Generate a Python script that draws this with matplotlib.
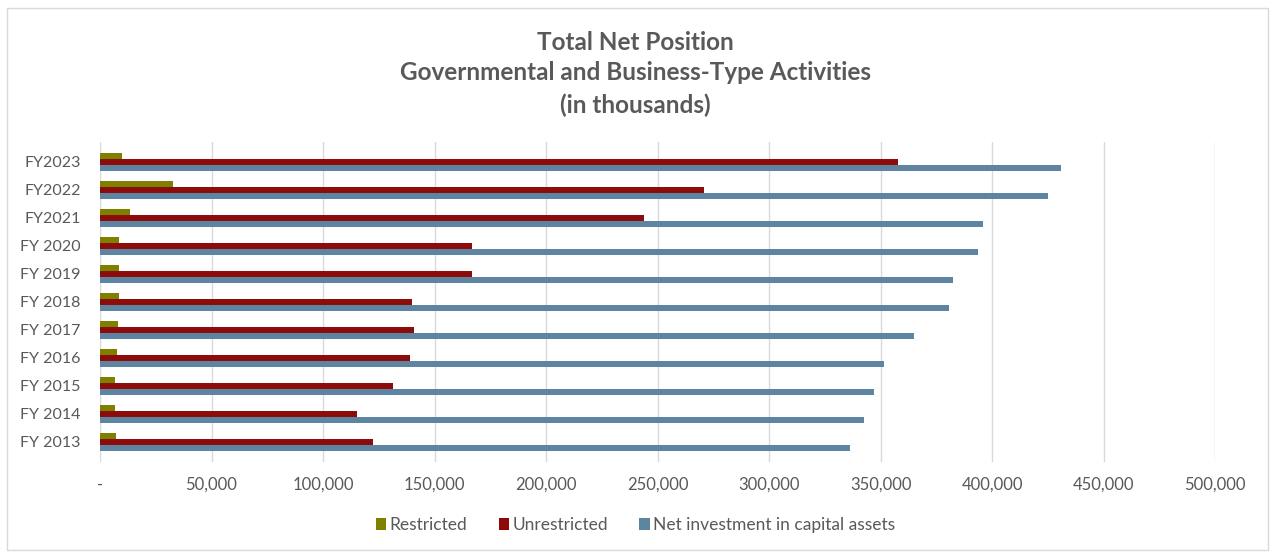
import numpy as np
import matplotlib.pyplot as plt
from matplotlib.ticker import FuncFormatter
from matplotlib.patches import Rectangle

years = ["FY 2013", "FY 2014", "FY 2015", "FY 2016", "FY 2017", "FY 2018",
         "FY 2019", "FY 2020", "FY2021", "FY2022", "FY2023"]
restricted = [7000, 6700, 6700, 7600, 8100, 8600, 8400, 8600, 13300, 32600, 9900]
unrestricted = [122600, 115100, 131400, 139000, 140800, 140100,
                166700, 166700, 243800, 270700, 357800]
net_investment = [336400, 342600, 347200, 351400, 364800, 380500,
                  382500, 393500, 396000, 424900, 430900]

series_names = ["Restricted", "Unrestricted", "Net investment in capital assets"]
colors = ["#7f7f00", "#8e0b0b", "#5d84a1"]
text_col = "#595959"

plt.rcParams['font.family'] = ['Lato', 'DejaVu Sans']

fig = plt.figure(figsize=(12.71, 5.54), dpi=100)
ax = fig.add_axes([0.0787, 0.1668, 0.8773, 0.5762])

y = np.arange(len(years))
h = 0.21
ax.barh(y + h, restricted, height=h, color=colors[0], label=series_names[0])
ax.barh(y, unrestricted, height=h, color=colors[1], label=series_names[1])
ax.barh(y - h, net_investment, height=h, color=colors[2], label=series_names[2])

ax.set_xlim(0, 500000)
ax.set_ylim(-0.7, 10.7)
ax.set_xticks(np.arange(0, 500001, 50000))
ax.xaxis.set_major_formatter(FuncFormatter(lambda v, p: "-" if v == 0 else f"{int(v):,}"))
ax.set_yticks(y)
ax.set_yticklabels(years)
ax.tick_params(axis='x', length=0, labelsize=12, labelcolor=text_col, pad=11)
ax.tick_params(axis='y', length=0, labelsize=11.5, labelcolor=text_col, pad=14)
ax.grid(axis='x', color='#d9d9d9', linewidth=1)
ax.set_axisbelow(True)
for s in ax.spines.values():
    s.set_visible(False)

title_lines = ["Total Net Position", "Governmental and Business-Type Activities",
               "(in thousands)"]
for line, ypix in zip(title_lines, [42, 73, 105]):
    fig.text(0.5, 1 - ypix / 554, line, ha='center', va='center',
             fontsize=17.5, fontweight='bold', color=text_col)

fig.legend(loc='center', bbox_to_anchor=(0.5, 1 - 525 / 554), ncol=3, frameon=False,
           fontsize=12.5, labelcolor=text_col, handlelength=0.6, handleheight=0.7,
           handletextpad=0.2, columnspacing=1.8)

fig.patches.append(Rectangle((7 / 1271, 4 / 554), 1261 / 1271, 542 / 554,
                             transform=fig.transFigure, fill=False,
                             edgecolor='#d9d9d9', linewidth=1))

fig.savefig("out.png", dpi=100)
